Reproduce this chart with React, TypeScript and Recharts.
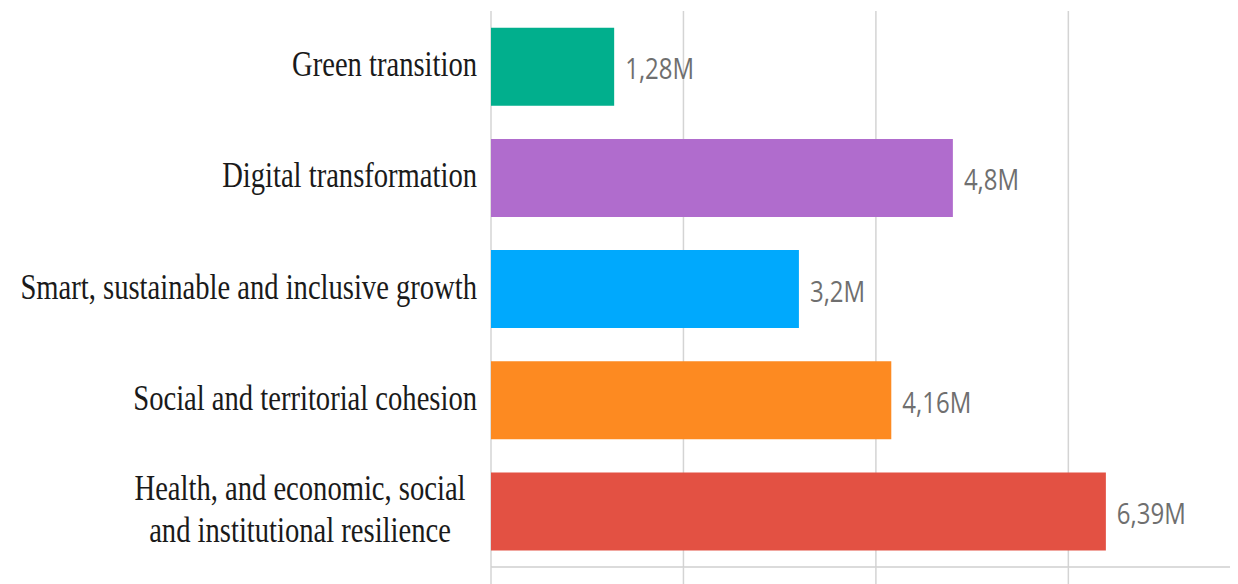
import { BarChart, Bar, XAxis, YAxis, CartesianGrid, Cell, LabelList } from 'recharts';

const categories = [
  'Green transition',
  'Digital transformation',
  'Smart, sustainable and inclusive growth',
  'Social and territorial cohesion',
  'Health, and economic, social\nand institutional resilience',
];
const values = [1.28, 4.8, 3.2, 4.16, 6.39];
const colors = ['#01af8d', '#b06ccd', '#00a9fd', '#fd8a21', '#e35143'];
const xTicks = [0, 2, 4, 6];

const data = categories.map((name, i) => ({ name, value: values[i] }));

const formatValue = (v: number) => String(v).replace('.', ',') + 'M';

// the source image is stretched vertically, so text is scaled the same way
const STRETCH = 1.25;

function CategoryTick(props: any) {
  const { x, y, payload } = props;
  const lines: string[] = String(payload.value).split('\n');
  const lineHeight = 42;
  const multi = lines.length > 1;
  const startY = y - ((lines.length - 1) * lineHeight) / 2 - 3;
  return (
    <g>
      {lines.map((line, i) => (
        <text
          key={i}
          transform={`translate(${multi ? 300 : x - 6}, ${startY + i * lineHeight}) scale(1, ${STRETCH})`}
          dy="0.35em"
          textAnchor={multi ? 'middle' : 'end'}
          fill="#1a1a1a"
          fontFamily="'Liberation Serif', 'DejaVu Serif', serif"
          fontSize={28.6}
        >
          {line}
        </text>
      ))}
    </g>
  );
}

function ValueLabel(props: any) {
  const { x, y, width, height, value } = props;
  const cx = Number(x) + Number(width) + 11;
  const cy = Number(y) + Number(height) / 2 + 2;
  return (
    <text
      transform={`translate(${cx}, ${cy}) scale(1, ${STRETCH})`}
      dy="0.35em"
      fill="#6f6f6f"
      fontSize={24}
      fontFamily="'Open Sans', 'Noto Sans', sans-serif"
    >
      {formatValue(Number(value))}
    </text>
  );
}

const EmptyTick = () => <g />;

export default function App() {
  return (
    <div style={{ position: 'absolute', left: 0, top: 0, background: '#fff' }}>
      <BarChart
        width={1238}
        height={584}
        data={data}
        layout="vertical"
        margin={{ top: 11, right: 8, bottom: 0, left: 0 }}
        barCategoryGap="15%"
      >
        <CartesianGrid horizontal={false} stroke="#d4d4d4" strokeWidth={1.5} syncWithTicks />
        <XAxis
          type="number"
          domain={[0, 7.68]}
          ticks={xTicks}
          height={17}
          tickSize={20}
          tick={<EmptyTick />}
          axisLine={{ stroke: '#cfcfcf', strokeWidth: 1.5 }}
          tickLine={{ stroke: '#d4d4d4', strokeWidth: 1.5 }}
        />
        <YAxis
          type="category"
          dataKey="name"
          width={491}
          axisLine={false}
          tickLine={false}
          tick={<CategoryTick />}
          interval={0}
        />
        <Bar dataKey="value" isAnimationActive={false}>
          {data.map((d, i) => (
            <Cell key={d.name} fill={colors[i]} />
          ))}
          <LabelList dataKey="value" content={<ValueLabel />} />
        </Bar>
      </BarChart>
    </div>
  );
}
